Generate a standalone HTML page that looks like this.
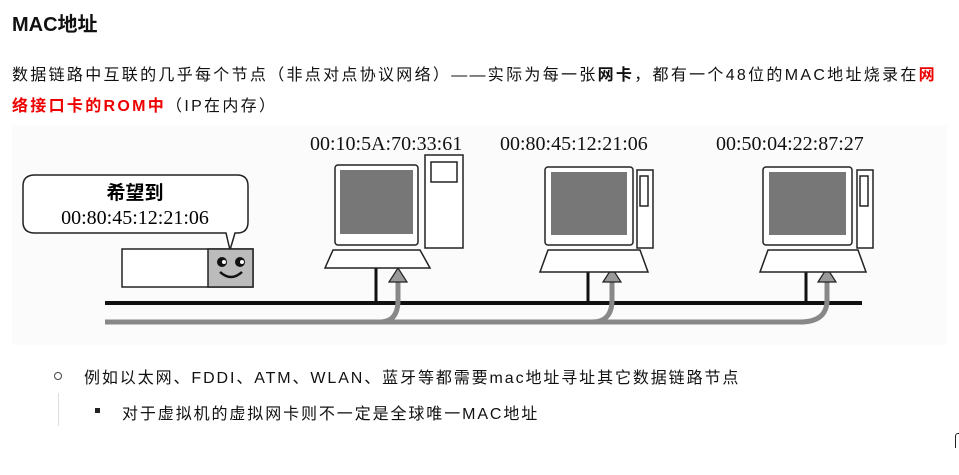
<!DOCTYPE html>
<html><head><meta charset="utf-8"><style>
body{margin:0;width:959px;height:475px;background:#fff;font-family:"Liberation Sans","Noto Sans CJK SC",sans-serif;color:#111;position:relative;overflow:hidden}
.a{position:absolute;white-space:nowrap}
h1{position:absolute;left:12px;top:8px;margin:0;font-size:20px;font-weight:bold;white-space:nowrap}
.p{font-size:16px;letter-spacing:2.3px}
.q{font-size:16px;letter-spacing:1.9px}
.r{color:#e00;font-weight:bold}
</style></head><body>
<h1>MAC地址</h1>
<div class="a p" style="left:12px;top:61px">数据链路中互联的几乎每个节点（非点对点协议网络）——实际为每一张<b>网卡</b>，都有一个48位的MAC地址烧录在<span class="r">网</span></div>
<div class="a p" style="left:12px;top:92px"><span class="r">络接口卡的ROM中</span>（IP在内存）</div>
<svg class="a" style="left:0;top:120px" width="959" height="230" viewBox="0 120 959 230">
<rect x="12" y="125" width="935" height="220" fill="#fbfbfb"/>
<g font-family="Liberation Serif,serif" font-size="20" fill="#111">
<text x="310" y="150">00:10:5A:70:33:61</text>
<text x="500" y="150">00:80:45:12:21:06</text>
<text x="716" y="150">00:50:04:22:87:27</text>
</g>
<path d="M35 175 H237 Q248 175 248 186 V222 Q248 233 237 233 H235 L230 250 L226 233 H35 Q23 233 23 222 V186 Q23 175 35 175Z" fill="#fff" stroke="#222" stroke-width="1.5"/>
<text x="135" y="199" text-anchor="middle" font-size="19" font-family="Noto Sans CJK SC,sans-serif" font-weight="bold">希望到</text>
<text x="135" y="224" text-anchor="middle" font-size="20" font-family="Liberation Serif,serif">00:80:45:12:21:06</text>
<rect x="122" y="249" width="131" height="38" fill="#fff" stroke="#222" stroke-width="1.5"/>
<rect x="208" y="249" width="45" height="38" fill="#bbb" stroke="#222" stroke-width="1.5"/>
<circle cx="222" cy="262" r="5" fill="#111"/><circle cx="240" cy="262" r="5" fill="#111"/>
<circle cx="224" cy="262" r="2" fill="#fff"/><circle cx="242" cy="262" r="2" fill="#fff"/>
<path d="M220 272 Q231 282 242 272" fill="none" stroke="#111" stroke-width="2.5"/>
<line x1="105" y1="303" x2="862" y2="303" stroke="#111" stroke-width="4"/>
<path d="M105 322 H380 Q398 322 398 300 V280 M380 322 H592 Q612 322 612 300 V280 M592 322 H800 Q827 322 827 300 V280" fill="none" stroke="#888" stroke-width="5"/>
<g fill="#999" stroke="#222" stroke-width="1.2">
<path d="M389 282 L398 268 L407 282Z"/><path d="M603 282 L612 268 L621 282Z"/><path d="M818 282 L827 268 L836 282Z"/>
</g>
<g stroke="#111" stroke-width="3"><line x1="376" y1="268" x2="376" y2="303"/><line x1="588" y1="272" x2="588" y2="303"/><line x1="806" y1="272" x2="806" y2="303"/></g>
<g fill="#fff" stroke="#222" stroke-width="1.5">
<rect x="335" y="165" width="83" height="80" rx="3"/><rect x="425" y="155" width="38" height="93"/>
<path d="M333 250 H420 L430 268 H325Z"/>
<rect x="545" y="167" width="88" height="78" rx="3"/><rect x="637" y="170" width="16" height="78"/>
<path d="M548 250 H640 L648 272 H540Z"/>
<rect x="763" y="167" width="89" height="78" rx="3"/><rect x="857" y="170" width="16" height="78"/>
<path d="M768 250 H858 L866 272 H760Z"/>
<rect x="431" y="162" width="26" height="20"/><rect x="640" y="176" width="8" height="30"/><rect x="860" y="176" width="8" height="30"/>
</g>
<g fill="#777"><rect x="340" y="170" width="73" height="64"/><rect x="551" y="172" width="76" height="63"/><rect x="769" y="172" width="77" height="63"/></g>
</svg>
<div class="a" style="left:54px;top:372px;width:6px;height:6px;border:1px solid #444;border-radius:50%"></div>
<div class="a q" style="left:84px;top:364px">例如以太网、FDDI、ATM、WLAN、蓝牙等都需要mac地址寻址其它数据链路节点</div>
<div class="a" style="left:58px;top:393px;width:1px;height:33px;background:#ddd"></div>
<div class="a" style="left:95px;top:408px;width:5px;height:5px;background:#222"></div>
<div class="a q" style="left:122px;top:400px">对于虚拟机的虚拟网卡则不一定是全球唯一MAC地址</div>
<div class="a" style="left:955px;top:433px;width:3px;height:14px;border-left:1.5px solid #222;border-top:1.5px solid #222;border-radius:3px 0 0 0"></div>
</body></html>
